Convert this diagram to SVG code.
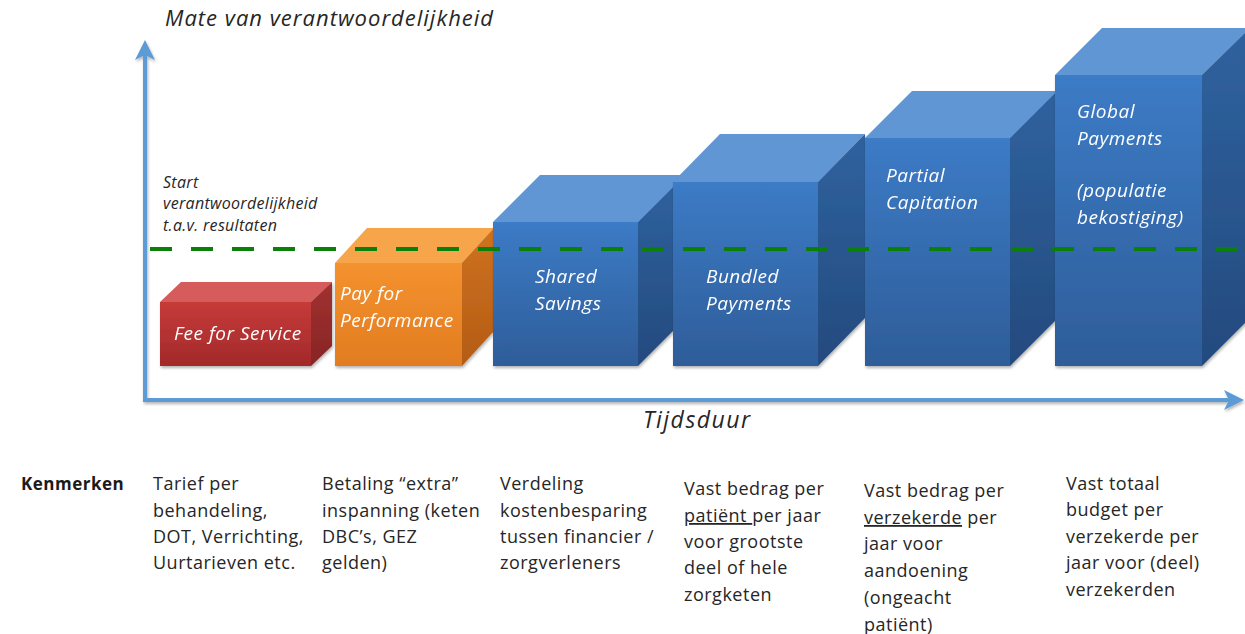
<svg xmlns="http://www.w3.org/2000/svg" width="1245" height="634" viewBox="0 0 1245 634">
<defs>
<linearGradient id="gBlueF" x1="0" y1="0" x2="0" y2="1"><stop offset="0" stop-color="#3c7bc6"/><stop offset="1" stop-color="#2e5d99"/></linearGradient>
<linearGradient id="gBlueS" x1="0" y1="0" x2="0" y2="1"><stop offset="0" stop-color="#2f629f"/><stop offset="1" stop-color="#244a7e"/></linearGradient>
<linearGradient id="gRedF" x1="0" y1="0" x2="0" y2="1"><stop offset="0" stop-color="#c63b39"/><stop offset="1" stop-color="#a2292a"/></linearGradient>
<linearGradient id="gRedS" x1="0" y1="0" x2="0" y2="1"><stop offset="0" stop-color="#a23130"/><stop offset="1" stop-color="#862524"/></linearGradient>
<linearGradient id="gOrF" x1="0" y1="0" x2="0" y2="1"><stop offset="0" stop-color="#f4922f"/><stop offset="1" stop-color="#e27c20"/></linearGradient>
<linearGradient id="gOrS" x1="0" y1="0" x2="0" y2="1"><stop offset="0" stop-color="#cf721f"/><stop offset="1" stop-color="#b35c16"/></linearGradient>
<marker id="arr" viewBox="0 0 10 10" refX="8" refY="5" markerWidth="5" markerHeight="5" orient="auto" markerUnits="strokeWidth">
<path d="M0,0 L10,5 L0,10 L2.5,5 Z" fill="#5b9bd5"/>
</marker>
<filter id="sh" x="-10%" y="-10%" width="130%" height="130%"><feGaussianBlur in="SourceAlpha" stdDeviation="1.5"/><feOffset dx="1" dy="2"/><feComponentTransfer><feFuncA type="linear" slope="0.3"/></feComponentTransfer><feMerge><feMergeNode/><feMergeNode in="SourceGraphic"/></feMerge></filter>
<filter id="shA" filterUnits="userSpaceOnUse" x="0" y="0" width="1245" height="634"><feGaussianBlur in="SourceAlpha" stdDeviation="1.5"/><feOffset dx="1" dy="2"/><feComponentTransfer><feFuncA type="linear" slope="0.3"/></feComponentTransfer><feMerge><feMergeNode/><feMergeNode in="SourceGraphic"/></feMerge></filter>
</defs>
<style>
.bt{font-family:"Open Sans","Liberation Sans",sans-serif;font-style:italic;font-size:19px;letter-spacing:0.5px;fill:#ffffff;}
.ax{font-family:"Open Sans","Liberation Sans",sans-serif;font-style:italic;font-size:22px;letter-spacing:1px;fill:#262626;}
.ax2{font-family:"Open Sans","Liberation Sans",sans-serif;font-style:italic;font-size:23px;letter-spacing:1.5px;fill:#262626;}
.st{font-family:"Open Sans","Liberation Sans",sans-serif;font-style:italic;font-size:16px;letter-spacing:0.3px;fill:#262626;}
.kt{font-family:"Open Sans","Liberation Sans",sans-serif;font-size:18px;letter-spacing:0.5px;fill:#262626;}
.kb{font-family:"Open Sans","Liberation Sans",sans-serif;font-size:17px;letter-spacing:0.5px;font-weight:bold;fill:#1a1a1a;}
.topB{fill:#6196d4;}
.axis{stroke:#5b9bd5;stroke-width:4;fill:none;}
</style>
<rect width="1245" height="634" fill="#ffffff"/>

<g id="connectors" filter="url(#shA)">
<path class="axis" d="M145,400 L145,44" marker-end="url(#arr)"/>
<path class="axis" d="M143,400 L1240,400" marker-end="url(#arr)"/>
</g>

<g id="fee-for-service" filter="url(#sh)">
<polygon points="160,302 181,282 332,282 311,302" fill="#d55c5a"/>
<polygon points="311,302 332,282 332,346 311,366" fill="url(#gRedS)"/>
<rect x="160" y="302" width="151" height="64" fill="url(#gRedF)"/>
<text class="bt" x="174" y="340">Fee for Service</text>
</g>

<g id="pay-for-performance" filter="url(#sh)">
<polygon points="335,263 367,228 494,228 462,263" fill="#f7a54c"/>
<polygon points="462,263 494,228 494,331 462,366" fill="url(#gOrS)"/>
<rect x="335" y="263" width="127" height="103" fill="url(#gOrF)"/>
<text class="bt" x="340" y="300">Pay for</text>
<text class="bt" x="340" y="327">Performance</text>
</g>

<g id="shared-savings" filter="url(#sh)">
<polygon points="493,222 540,175 685,175 638,222" class="topB"/>
<polygon points="638,222 685,175 685,319 638,366" fill="url(#gBlueS)"/>
<rect x="493" y="222" width="145" height="144" fill="url(#gBlueF)"/>
<text class="bt" x="535" y="283">Shared</text>
<text class="bt" x="535" y="310">Savings</text>
</g>

<g id="bundled-payments" filter="url(#sh)">
<polygon points="673,182 720,134 865,134 818,182" class="topB"/>
<polygon points="818,182 865,134 865,318 818,366" fill="url(#gBlueS)"/>
<rect x="673" y="182" width="145" height="184" fill="url(#gBlueF)"/>
<text class="bt" x="706" y="283">Bundled</text>
<text class="bt" x="706" y="310">Payments</text>
</g>

<g id="partial-capitation" filter="url(#sh)">
<polygon points="865,138 912,91 1057,91 1010,138" class="topB"/>
<polygon points="1010,138 1057,91 1057,319 1010,366" fill="url(#gBlueS)"/>
<rect x="865" y="138" width="145" height="228" fill="url(#gBlueF)"/>
<text class="bt" x="886" y="182">Partial</text>
<text class="bt" x="886" y="209">Capitation</text>
</g>

<g id="global-payments" filter="url(#sh)">
<polygon points="1055,75 1102,28 1250,28 1202,75" class="topB"/>
<polygon points="1202,75 1250,28 1250,318 1202,366" fill="url(#gBlueS)"/>
<rect x="1055" y="75" width="147" height="291" fill="url(#gBlueF)"/>
<text class="bt" x="1077" y="118">Global</text>
<text class="bt" x="1077" y="145">Payments</text>
<text class="bt" x="1077" y="197">(populatie</text>
<text class="bt" x="1077" y="224">bekostiging)</text>
</g>

<g id="start-line">
<line x1="150" y1="249" x2="1245" y2="249" stroke="#0a7f0a" stroke-width="4" stroke-dasharray="22,19"/>
<text class="st" x="163" y="188">Start</text>
<text class="st" x="163" y="209">verantwoordelijkheid</text>
<text class="st" x="163" y="231">t.a.v. resultaten</text>
</g>

<g id="axis-labels">
<text class="ax" x="165" y="26">Mate van verantwoordelijkheid</text>
<text class="ax2" x="643" y="428">Tijdsduur</text>
</g>

<g id="kenmerken">
<text class="kb" x="21" y="490">Kenmerken</text>
<text class="kt" x="153" y="490">Tarief per</text>
<text class="kt" x="153" y="517">behandeling,</text>
<text class="kt" x="153" y="543">DOT, Verrichting,</text>
<text class="kt" x="153" y="569">Uurtarieven etc.</text>

<text class="kt" x="322" y="490">Betaling “extra”</text>
<text class="kt" x="322" y="517">inspanning (keten</text>
<text class="kt" x="322" y="543">DBC’s, GEZ</text>
<text class="kt" x="322" y="569">gelden)</text>

<text class="kt" x="500" y="490">Verdeling</text>
<text class="kt" x="500" y="517">kostenbesparing</text>
<text class="kt" x="500" y="543">tussen financier /</text>
<text class="kt" x="500" y="569">zorgverleners</text>

<text class="kt" x="684" y="495">Vast bedrag per</text>
<text class="kt" x="684" y="522"><tspan text-decoration="underline">patiënt </tspan>per jaar</text>
<text class="kt" x="684" y="548">voor grootste</text>
<text class="kt" x="684" y="574">deel of hele</text>
<text class="kt" x="684" y="601">zorgketen</text>

<text class="kt" x="864" y="497">Vast bedrag per</text>
<text class="kt" x="864" y="524"><tspan text-decoration="underline">verzekerde</tspan> per</text>
<text class="kt" x="864" y="550">jaar voor</text>
<text class="kt" x="864" y="577">aandoening</text>
<text class="kt" x="864" y="604">(ongeacht</text>
<text class="kt" x="864" y="631">patiënt)</text>

<text class="kt" x="1066" y="490">Vast totaal</text>
<text class="kt" x="1066" y="516">budget per</text>
<text class="kt" x="1066" y="543">verzekerde per</text>
<text class="kt" x="1066" y="569">jaar voor (deel)</text>
<text class="kt" x="1066" y="596">verzekerden</text>
</g>
</svg>
